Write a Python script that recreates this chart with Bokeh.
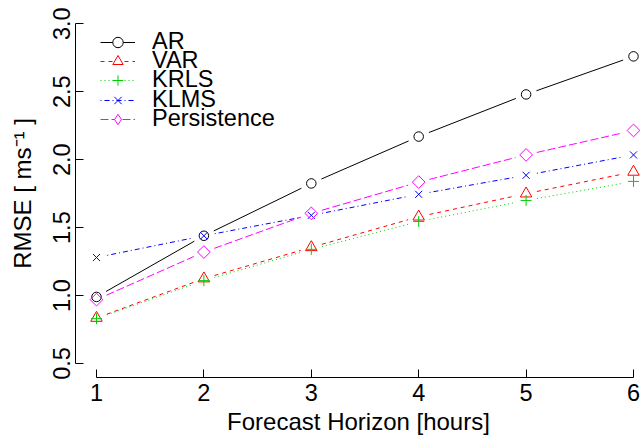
import math
from bokeh.plotting import figure
from bokeh.models import (Legend, LegendItem, FixedTicker, PrintfTickFormatter,
                          ColumnDataSource, Range1d)
from bokeh.embed import file_html
from bokeh.resources import INLINE

# ---- data ----
horizon = [1, 2, 3, 4, 5, 6]
ar = [0.99, 1.44, 1.825, 2.17, 2.48, 2.76]
var = [0.835, 1.125, 1.355, 1.58, 1.75, 1.91]
krls = [0.83, 1.11, 1.34, 1.545, 1.70, 1.84]
klms = [1.28, 1.44, 1.59, 1.745, 1.885, 2.035]
persistence = [0.97, 1.32, 1.605, 1.835, 2.035, 2.215]
x_ticks = [1, 2, 3, 4, 5, 6]
y_ticks = [0.5, 1.0, 1.5, 2.0, 2.5, 3.0]

series = [
    ("AR", ar, "#000000", "solid", "circle"),
    ("VAR", var, "#FF0000", "4 4", "triangle"),
    ("KRLS", krls, "#00CD00", "1 3", "cross"),
    ("KLMS", klms, "#0000FF", "1 3 5 3", "x"),
    ("Persistence", persistence, "#FF00FF", "8 3", "diamond"),
]

W, H = 641, 437
BL, BR, BT, BB = 75, 0, 9, 59
x0, x1 = 0.8045, 6.0745
y0, y1 = 0.397, 3.105
sx = (W - BL - BR) / (x1 - x0)
sy = (H - BT - BB) / (y1 - y0)
GAP = 11.0
FRAME_H = H - BT - BB

p = figure(width=W, height=H, output_backend="svg", toolbar_location=None,
           title=None, x_range=Range1d(x0, x1), y_range=Range1d(y0, y1),
           min_border_left=BL, min_border_right=BR, min_border_top=BT,
           min_border_bottom=BB)
p.xgrid.visible = False
p.ygrid.visible = False
p.outline_line_color = None
p.background_fill_color = "white"
p.border_fill_color = "white"

FONT = "Liberation Sans"
sizes = {"circle": 9.5, "triangle": 11.5, "cross": 11, "x": 10}
ROW0, ROWSTEP, ROWH = 34, 19.25, 26  # legend row centre below frame top

sources = [ColumnDataSource(dict(x=horizon, y=s[1])) for s in series]

segs = []
for name, vals, color, dash, marker in series:
    xs0, ys0, xs1, ys1 = [], [], [], []
    for i in range(len(horizon) - 1):
        dx = horizon[i + 1] - horizon[i]
        dy = vals[i + 1] - vals[i]
        L = math.hypot(dx * sx, dy * sy)
        f = GAP / L
        xs0.append(horizon[i] + f * dx)
        ys0.append(vals[i] + f * dy)
        xs1.append(horizon[i + 1] - f * dx)
        ys1.append(vals[i + 1] - f * dy)
    segs.append(p.segment(x0=xs0, y0=ys0, x1=xs1, y1=ys1, line_color=color,
                          line_width=1, line_dash=dash))

for (name, vals, color, dash, marker), src in zip(series, sources):
    if marker == "diamond":
        p.scatter("x", "y", source=src, marker="square", angle=math.pi / 4,
                  size=9, line_color=color, fill_color=None, line_width=1)
    else:
        p.scatter("x", "y", source=src, marker=marker, size=sizes[marker],
                  line_color=color, fill_color=None, line_width=1)

# legend key markers: hidden renderers, only drawn inside the legend
keys = []
for (name, vals, color, dash, marker), src in zip(series, sources):
    keys.append(p.scatter("x", "y", source=src, marker=marker, size=10,
                          line_color=color, fill_color="white", line_width=1,
                          visible=False))

for k, (name, vals, color, dash, marker) in enumerate(series):
    centre = ROW0 + k * ROWSTEP
    loc_y = round(FRAME_H - (centre + ROWH / 2))
    leg = Legend(items=[LegendItem(label=name, renderers=[segs[k], keys[k]])],
                 location=(25, loc_y), padding=0, margin=0, spacing=0,
                 glyph_width=35, glyph_height=ROWH, label_height=ROWH,
                 label_standoff=17, label_text_font=FONT,
                 label_text_font_size="23.5px", label_text_color="black",
                 border_line_color=None, background_fill_alpha=0,
                 inactive_fill_alpha=0, click_policy="none")
    p.add_layout(leg)

for ax in (p.xaxis[0], p.yaxis[0]):
    ax.axis_line_color = "black"
    ax.axis_line_width = 1
    ax.major_tick_line_color = "black"
    ax.major_tick_in = 8
    ax.major_tick_out = 0
    ax.minor_tick_line_color = None
    ax.major_label_text_font = FONT
    ax.major_label_text_font_size = "23.5px"
    ax.major_label_text_color = "black"
    ax.axis_label_text_font = FONT
    ax.axis_label_text_font_size = "24px"
    ax.axis_label_text_font_style = "normal"
    ax.axis_label_text_color = "black"

p.xaxis.ticker = FixedTicker(ticks=x_ticks)
p.xaxis.bounds = (1, 6)
p.xaxis.major_label_standoff = 6
p.xaxis.axis_label = "Forecast Horizon [hours]"
p.xaxis.axis_label_standoff = 4

p.yaxis.ticker = FixedTicker(ticks=y_ticks)
p.yaxis.formatter = PrintfTickFormatter(format="%.1f")
p.yaxis.bounds = (0.5, 3.0)
p.yaxis.major_label_orientation = "vertical"
p.yaxis.major_label_standoff = 5
p.yaxis.axis_label = "RMSE [ ms\u207b\u00b9 ]"
p.yaxis.axis_label_standoff = 15

open("out.html", "w").write(file_html(p, INLINE))
